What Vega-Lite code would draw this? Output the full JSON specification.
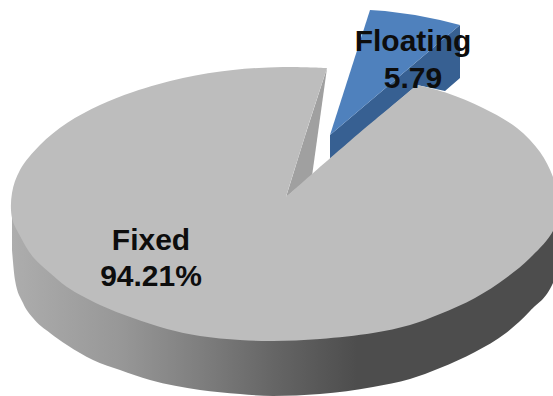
{"$schema":"https://vega.github.io/schema/vega-lite/v6.json","width":553,"height":396,"padding":0,"autosize":{"type":"none"},"background":"#ffffff","config":{"view":{"stroke":null}},
"datasets":{
"blueWall":[{"i":0,"x":330,"y":135},{"i":1,"x":460,"y":25},{"i":2,"x":460,"y":78},{"i":3,"x":445,"y":91},{"i":4,"x":417,"y":85},{"i":5,"x":330,"y":159},{"i":6,"x":330,"y":135}],
"blueTop":[{"i":0,"x":370,"y":10},{"i":1,"x":385,"y":11},{"i":2,"x":415,"y":15},{"i":3,"x":440,"y":20},{"i":4,"x":460,"y":25},{"i":5,"x":330,"y":135},{"i":6,"x":370,"y":10}],
"wall":[{"x":12,"top":207,"bottom":250},{"x":15,"top":217,"bottom":280},{"x":23,"top":230,"bottom":303},{"x":33,"top":249,"bottom":318},{"x":50,"top":265,"bottom":333},{"x":67,"top":279,"bottom":345},{"x":93,"top":294,"bottom":360},{"x":120,"top":305,"bottom":370},{"x":150,"top":316,"bottom":380},{"x":200,"top":328,"bottom":390},{"x":240,"top":332,"bottom":394},{"x":273,"top":333,"bottom":396},{"x":320,"top":331,"bottom":394},{"x":373,"top":325,"bottom":387},{"x":410,"top":317,"bottom":379},{"x":440,"top":306,"bottom":368},{"x":475,"top":290,"bottom":352},{"x":506,"top":270,"bottom":333},{"x":530,"top":250,"bottom":311},{"x":553,"top":223,"bottom":283},{"x":560,"top":197,"bottom":265}],
"inner":[{"i":0,"x":327,"y":68},{"i":1,"x":305,"y":136},{"i":2,"x":286,"y":197},{"i":3,"x":312,"y":176},{"i":4,"x":327,"y":68}],
"face":[{"i":0,"x":327,"y":68},{"i":1,"x":327,"y":68},{"i":2,"x":283,"y":67},{"i":3,"x":233,"y":70},{"i":4,"x":183,"y":78},{"i":5,"x":133,"y":92},{"i":6,"x":100,"y":105},{"i":7,"x":67,"y":123},{"i":8,"x":40,"y":145},{"i":9,"x":20,"y":170},{"i":10,"x":12,"y":193},{"i":11,"x":12,"y":218},{"i":12,"x":20,"y":236},{"i":13,"x":33,"y":257},{"i":14,"x":50,"y":273},{"i":15,"x":67,"y":287},{"i":16,"x":100,"y":305},{"i":17,"x":133,"y":318},{"i":18,"x":167,"y":329},{"i":19,"x":200,"y":336},{"i":20,"x":240,"y":340},{"i":21,"x":273,"y":341},{"i":22,"x":320,"y":339},{"i":23,"x":373,"y":333},{"i":24,"x":410,"y":325},{"i":25,"x":440,"y":314},{"i":26,"x":475,"y":298},{"i":27,"x":506,"y":278},{"i":28,"x":530,"y":258},{"i":29,"x":553,"y":231},{"i":30,"x":560,"y":205},{"i":31,"x":553,"y":177},{"i":32,"x":540,"y":152},{"i":33,"x":517,"y":128},{"i":34,"x":483,"y":108},{"i":35,"x":447,"y":93},{"i":36,"x":417,"y":85},{"i":37,"x":417,"y":85},{"i":38,"x":350,"y":141},{"i":39,"x":286,"y":197},{"i":40,"x":286,"y":197},{"i":41,"x":305,"y":136},{"i":42,"x":327,"y":68},{"i":43,"x":327,"y":68}],
"labels":[{"label":"Floating","x":413,"y":42},{"label":"5.79","x":413,"y":79},{"label":"Fixed","x":151,"y":241},{"label":"94.21%","x":151,"y":277}]
},
"encoding":{"x":{"field":"x","type":"quantitative","scale":{"domain":[0,553],"nice":false,"zero":false},"axis":null},"y":{"field":"y","type":"quantitative","scale":{"domain":[396,0],"nice":false,"zero":false},"axis":null}},
"layer":[
{"data":{"name":"blueWall"},"mark":{"type":"line","fill":"#376092","stroke":null,"strokeWidth":0,"clip":true},"encoding":{"order":{"field":"i"}}},
{"data":{"name":"blueTop"},"mark":{"type":"line","fill":"#4f81bd","stroke":null,"strokeWidth":0,"clip":true},"encoding":{"order":{"field":"i"}}},
{"data":{"name":"wall"},"mark":{"type":"area","interpolate":"monotone","clip":true,"color":{"gradient":"linear","x1":0,"x2":1,"y1":0,"y2":0,"stops":[{"offset":0,"color":"#adadad"},{"offset":0.2,"color":"#979797"},{"offset":0.34,"color":"#7f7f7f"},{"offset":0.48,"color":"#656565"},{"offset":0.63,"color":"#4d4d4d"},{"offset":1,"color":"#4d4d4d"}]}},"encoding":{"y":{"field":"bottom","type":"quantitative","scale":{"domain":[396,0],"nice":false,"zero":false},"axis":null},"y2":{"field":"top"}}},
{"data":{"name":"inner"},"mark":{"type":"line","fill":"#a0a0a0","stroke":null,"strokeWidth":0,"clip":true},"encoding":{"order":{"field":"i"}}},
{"data":{"name":"face"},"mark":{"type":"line","interpolate":"catmull-rom","fill":"#bdbdbd","stroke":null,"strokeWidth":0,"clip":true},"encoding":{"order":{"field":"i"}}},
{"data":{"name":"labels"},"mark":{"type":"text","font":"Liberation Sans","fontWeight":"bold","fontSize":30,"color":"#0d0d0d","align":"center","baseline":"middle"},"encoding":{"text":{"field":"label","type":"nominal"}}}
]}
